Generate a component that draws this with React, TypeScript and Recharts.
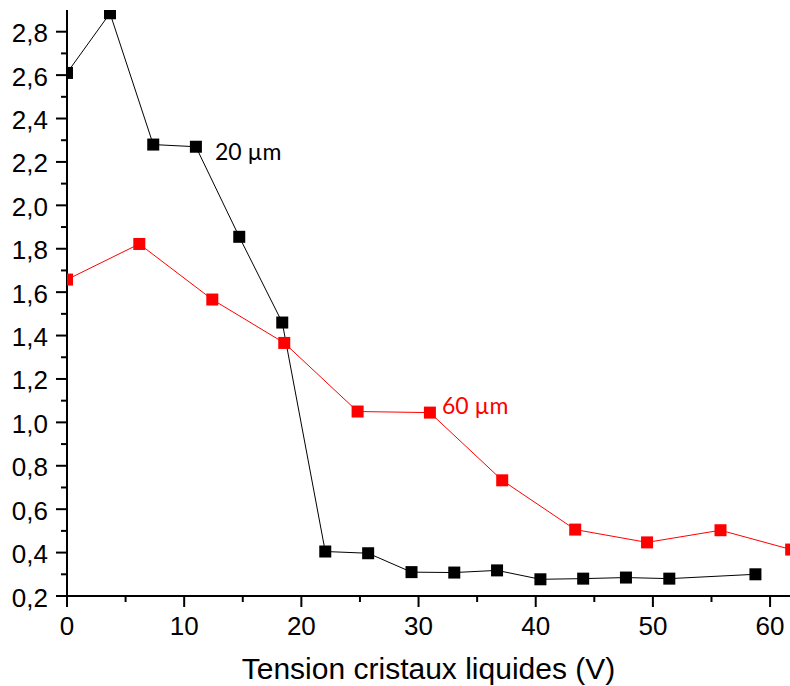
import React from 'react';
import { LineChart, Line, XAxis, YAxis, Label } from 'recharts';

// 20 µm series
const voltage20 = [0, 3.67, 7.36, 11.0, 14.7, 18.37, 22.04, 25.7, 29.4, 33.05, 36.7, 40.4, 44.05, 47.7, 51.4, 58.75];
const value20 = [2.61, 2.885, 2.28, 2.27, 1.855, 1.46, 0.405, 0.397, 0.31, 0.308, 0.318, 0.277, 0.28, 0.285, 0.28, 0.3];
// 60 µm series
const voltage60 = [0, 6.17, 12.4, 18.54, 24.8, 30.97, 37.14, 43.37, 49.5, 55.77, 61.8];
const value60 = [1.658, 1.822, 1.566, 1.366, 1.05, 1.045, 0.733, 0.506, 0.447, 0.503, 0.414];

const xTicks = [0, 5, 10, 15, 20, 25, 30, 35, 40, 45, 50, 55, 60];
const yTicks = [0.2, 0.3, 0.4, 0.5, 0.6, 0.7, 0.8, 0.9, 1.0, 1.1, 1.2, 1.3, 1.4, 1.5, 1.6, 1.7, 1.8, 1.9, 2.0, 2.1, 2.2, 2.3, 2.4, 2.5, 2.6, 2.7, 2.8];

const label20 = '20 µm';
const label60 = '60 µm';
const xTitle = 'Tension cristaux liquides (V)';

const data20 = voltage20.map((x, i) => ({ x, y: value20[i] }));
const data60 = voltage60.map((x, i) => ({ x, y: value60[i] }));

const TICK_FONT = '"Liberation Sans", Arial, sans-serif';
const ANN_FONT = 'Lato, "Open Sans", sans-serif';

const XTick = (props: any) => {
  const { x, y, payload } = props;
  const v = payload.value;
  const major = Math.round(v) % 10 === 0;
  return (
    <g>
      <line x1={x} y1={y} x2={x} y2={y + (major ? 11 : 6)} stroke="#000" strokeWidth={2} />
      {major && (
        <text x={x} y={y + 39} textAnchor="middle" fontSize={26} fontFamily={TICK_FONT} fill="#000">
          {String(v)}
        </text>
      )}
    </g>
  );
};

const YTick = (props: any) => {
  const { x, y, payload } = props;
  const v = payload.value;
  const major = Math.round(v * 10) % 2 === 0;
  return (
    <g>
      <line x1={x} y1={y} x2={x - (major ? 11 : 6)} y2={y} stroke="#000" strokeWidth={2} />
      {major && (
        <text x={x - 19} y={y + 10.5} textAnchor="end" fontSize={26} fontFamily={TICK_FONT} fill="#000">
          {v.toFixed(1).replace('.', ',')}
        </text>
      )}
    </g>
  );
};

const makeDot = (color: string, labelIndex: number, text: string, dx: number, dy: number) => (props: any) => {
  const { cx, cy, index } = props;
  if (cx == null || cy == null) return <g key={`d-${index}`} />;
  return (
    <g key={`d-${color}-${index}`}>
      <rect x={cx - 6} y={cy - 6} width={12} height={12} fill={color} />
      {index === labelIndex && (
        <text x={cx + dx} y={cy + dy} fontSize={23} fontFamily={ANN_FONT} fill={color}>
          {text}
        </text>
      )}
    </g>
  );
};

export default function App() {
  return (
    <div style={{ position: 'absolute', left: 0, top: 0, background: '#fff' }}>
      <LineChart width={790} height={686} margin={{ top: 10, right: 0, bottom: 0, left: 0 }}>
        <XAxis
          dataKey="x"
          type="number"
          domain={[0, 61.7]}
          allowDataOverflow
          ticks={xTicks}
          interval={0}
          tickSize={0}
          tickMargin={0}
          tick={<XTick />}
          tickLine={false}
          axisLine={{ stroke: '#000', strokeWidth: 2 }}
          height={90}
        >
          <Label
            value={xTitle}
            position="insideBottom"
            offset={7}
            style={{ fontSize: 30, fontFamily: TICK_FONT, fill: '#000' }}
          />
        </XAxis>
        <YAxis
          dataKey="y"
          type="number"
          domain={[0.2, 2.9]}
          allowDataOverflow
          ticks={yTicks}
          interval={0}
          tickSize={0}
          tickMargin={0}
          tick={<YTick />}
          tickLine={false}
          axisLine={{ stroke: '#000', strokeWidth: 2 }}
          width={67}
        />
        <Line
          data={data60}
          dataKey="y"
          stroke="#ff0000"
          strokeWidth={1}
          isAnimationActive={false}
          dot={makeDot('#ff0000', 5, label60, 12, 1)}
          activeDot={false}
        />
        <Line
          data={data20}
          dataKey="y"
          stroke="#000"
          strokeWidth={1}
          isAnimationActive={false}
          dot={makeDot('#000', 3, label20, 19, 13)}
          activeDot={false}
        />
      </LineChart>
    </div>
  );
}
